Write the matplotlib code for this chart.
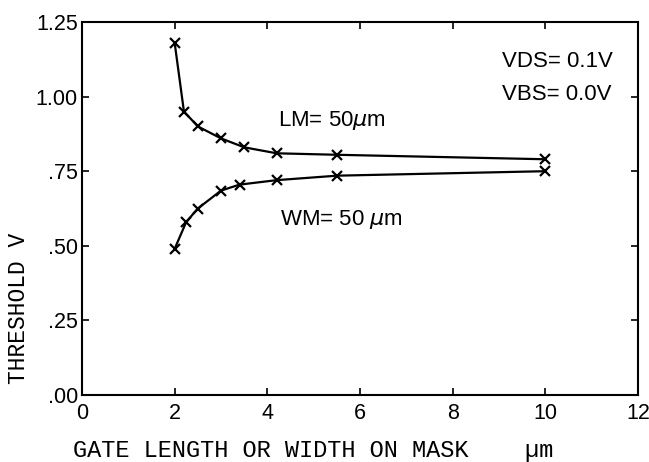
import matplotlib.pyplot as plt

# gate length / width on mask (um) and threshold voltage (V)
lm_x = [2.0, 2.2, 2.5, 3.0, 3.5, 4.2, 5.5, 10.0]
lm_vt = [1.18, 0.95, 0.90, 0.86, 0.83, 0.81, 0.805, 0.79]
wm_x = [2.0, 2.25, 2.5, 3.0, 3.4, 4.2, 5.5, 10.0]
wm_vt = [0.49, 0.58, 0.625, 0.685, 0.705, 0.72, 0.735, 0.75]

xticks = [0, 2, 4, 6, 8, 10, 12]
yticks = [0.0, 0.25, 0.5, 0.75, 1.0, 1.25]
ylabels = ['.00', '.25', '.50', '.75', '1.00', '1.25']

sans = ['Liberation Sans', 'DejaVu Sans']
mono = ['Liberation Mono', 'DejaVu Sans Mono']

fig = plt.figure(figsize=(6.49, 4.62), dpi=100)
ax = fig.add_axes([0.1263, 0.145, 0.857, 0.8074])

ax.plot(lm_x, lm_vt, color='black', lw=1.6, marker='x', ms=7.5, mew=1.6)
ax.plot(wm_x, wm_vt, color='black', lw=1.6, marker='x', ms=7.5, mew=1.6)

ax.set_xlim(0, 12)
ax.set_ylim(0, 1.25)
ax.set_xticks(xticks)
ax.set_xticklabels([str(t) for t in xticks], family=sans, fontsize=15.5)
ax.set_yticks(yticks)
ax.set_yticklabels(ylabels, family=sans, fontsize=15.5)
ax.tick_params(direction='in', length=5, width=1.2, top=True, right=True)
ax.tick_params(axis='x', pad=6)
ax.tick_params(axis='y', pad=3)
for s in ax.spines.values():
    s.set_linewidth(1.5)

ax.text(4.22, 0.90, 'LM= 50$\\mu$m', family=sans, fontsize=16, ha='left', va='baseline')
ax.text(4.27, 0.57, 'WM= 50 $\\mu$m', family=sans, fontsize=16, ha='left', va='baseline')
ax.text(9.07, 1.10, 'VDS= 0.1V', family=sans, fontsize=16, ha='left', va='baseline')
ax.text(9.07, 0.99, 'VBS= 0.0V', family=sans, fontsize=16, ha='left', va='baseline')

fig.text(73 / 649, 1 - 457 / 462, 'GATE LENGTH OR WIDTH ON MASK    \u00b5m',
         family=mono, fontsize=17, ha='left', va='baseline')
fig.text(19 / 649, 1 - 308 / 462, 'THRESHOLD V', family=mono, fontsize=16.5,
         rotation=90, ha='center', va='center')

fig.savefig('out.png', dpi=100)
